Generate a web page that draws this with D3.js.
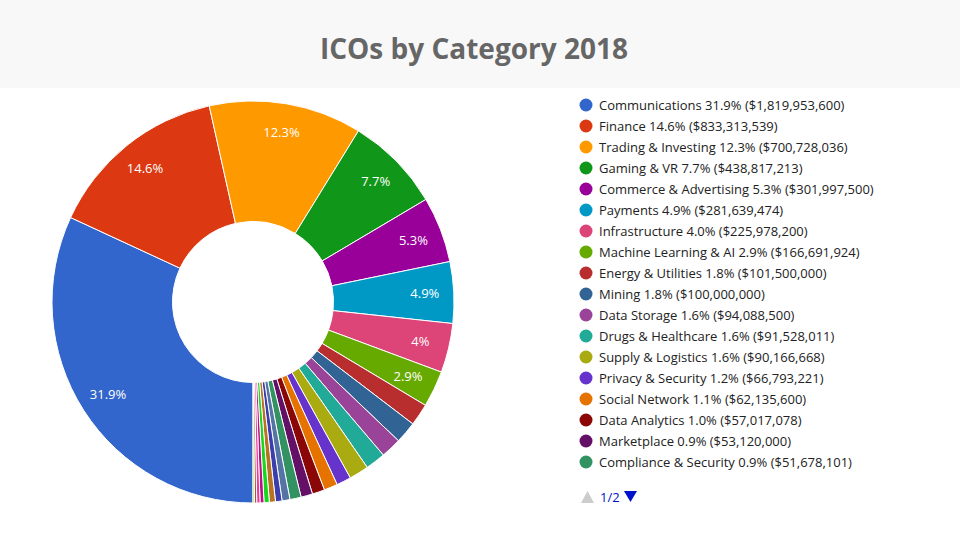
<!DOCTYPE html>
<html>
<head>
<meta charset="utf-8">
<script src="https://cdn.jsdelivr.net/npm/d3@7"></script>
<style>
  body { margin: 0; background: #fff; font-family: "Open Sans", sans-serif; }
</style>
</head>
<body>
<div id="chart"></div>
<script>
// Categories and raised amounts (USD), sorted by size
var categories = [
  "Communications", "Finance", "Trading & Investing", "Gaming & VR",
  "Commerce & Advertising", "Payments", "Infrastructure", "Machine Learning & AI",
  "Energy & Utilities", "Mining", "Data Storage", "Drugs & Healthcare",
  "Supply & Logistics", "Privacy & Security", "Social Network", "Data Analytics",
  "Marketplace", "Compliance & Security",
  // second legend page (not visible)
  "Media & Entertainment", "Identity", "Real Estate", "Charity",
  "Legal", "Insurance", "Tourism", "Other"
];
var amounts = [
  1819953600, 833313539, 700728036, 438817213,
  301997500, 281639474, 225978200, 166691924,
  101500000, 100000000, 94088500, 91528011,
  90166668, 66793221, 62135600, 57017078,
  53120000, 51678101,
  36000000, 30000000, 28000000, 24000000,
  18000000, 15000000, 11000000, 6000000
];
var palette = [
  "#3366cc", "#dc3912", "#ff9900", "#109618", "#990099", "#0099c6",
  "#dd4477", "#66aa00", "#b82e2e", "#316395", "#994499", "#22aa99",
  "#aaaa11", "#6633cc", "#e67300", "#8b0707", "#651067", "#329262",
  "#5574a6", "#3b3eac", "#b77322", "#16d620", "#b91383", "#f4359e",
  "#9c5935", "#a9c413"
];
var legendPage = 18;

var svgWidth = 960;
var svgHeight = 539;

var data = categories.map(function(c, i) {
  return { name: c, value: amounts[i] };
});
var total = d3.sum(amounts);

var svg = d3.select("#chart")
  .append("svg")
  .attr("width", svgWidth)
  .attr("height", svgHeight);

// Title band
svg.append("rect")
  .attr("width", svgWidth)
  .attr("height", 88)
  .attr("fill", "#f8f8f8");

svg.append("text")
  .attr("x", 474)
  .attr("y", 59)
  .attr("text-anchor", "middle")
  .attr("font-size", "28px")
  .attr("font-weight", "bold")
  .attr("fill", "#666")
  .text("ICOs by Category 2018");

// Donut
var outerR = 201;
var innerR = 80.5;
var pieGroup = svg.append("g")
  .attr("transform", "translate(253, 302)");

var pie = d3.pie()
  .value(d => d.value)
  .sort(null)
  .startAngle(Math.PI)
  .endAngle(3 * Math.PI);

var arc = d3.arc().innerRadius(innerR).outerRadius(outerR);
var labelArc = d3.arc().innerRadius(172).outerRadius(172);

var color = d3.scaleOrdinal().domain(categories).range(palette);

var arcs = pie(data);

pieGroup.selectAll("path")
  .data(arcs)
  .enter()
  .append("path")
  .attr("d", arc)
  .attr("fill", d => color(d.data.name))
  .attr("stroke", "#fff")
  .attr("stroke-width", 1);

pieGroup.selectAll("text")
  .data(arcs.filter(d => d.data.value / total >= 0.025))
  .enter()
  .append("text")
  .attr("transform", d => `translate(${labelArc.centroid(d)})`)
  .attr("text-anchor", "middle")
  .attr("dy", "0.35em")
  .attr("font-size", "13px")
  .attr("fill", "#fff")
  .text(d => d3.format(".1~%")(d.data.value / total));

// Legend (first page)
var legend = svg.append("g")
  .attr("transform", "translate(586, 105)");

var rows = legend.selectAll("g")
  .data(data.slice(0, legendPage))
  .enter()
  .append("g")
  .attr("transform", (d, i) => `translate(0, ${i * 21})`);

rows.append("circle")
  .attr("r", 6.5)
  .attr("fill", d => color(d.name));

rows.append("text")
  .attr("x", 13)
  .attr("dy", "0.35em")
  .attr("font-size", "13px")
  .attr("fill", "#222")
  .text(d => `${d.name} ${d3.format(".1f")(d.value / total * 100)}% (${d3.format("$,")(d.value)})`);

// Pager
var pager = svg.append("g")
  .attr("transform", "translate(581, 497)");

pager.append("path")
  .attr("d", "M0,6 L6.5,-6 L13,6 Z")
  .attr("fill", "#ccc");

pager.append("text")
  .attr("x", 19)
  .attr("dy", "0.35em")
  .attr("font-size", "13px")
  .attr("fill", "#0011cc")
  .text("1/2");

pager.append("path")
  .attr("d", "M43,-6 L56,-6 L49.5,5 Z")
  .attr("fill", "#0011cc");
</script>
</body>
</html>
